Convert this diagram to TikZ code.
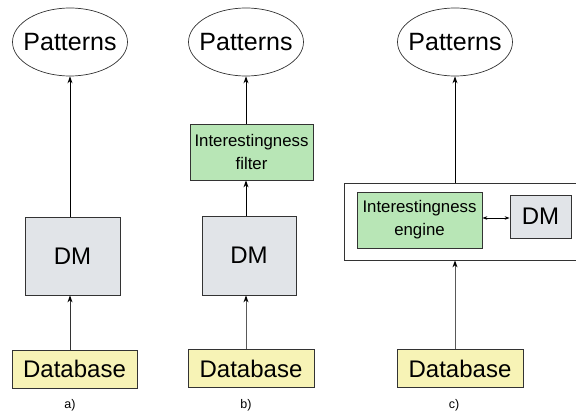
\documentclass[tikz,border=0pt]{standalone}
\usepackage{fontspec}
\setmainfont{Liberation Sans}
\usepackage{xcolor}
\usepackage{tikz}
\usetikzlibrary{positioning}
\usetikzlibrary{arrows.meta}
\usetikzlibrary{shapes.geometric}

\definecolor{dmgray}{HTML}{E1E4E8}
\definecolor{dbyellow}{HTML}{F7F3B6}
\definecolor{filtergreen}{HTML}{B8E6B6}
\definecolor{edgegray}{HTML}{333333}

\tikzset{
  pattern/.style={draw=edgegray, line width=0.7pt, ellipse, minimum width=115pt, minimum height=68pt, inner xsep=-12pt, inner ysep=0pt, font=\fontsize{25}{29}\selectfont},
  dmbox/.style={draw=edgegray, line width=0.8pt, fill=dmgray, rectangle, inner sep=0pt, font=\fontsize{24}{28}\selectfont},
  dbbox/.style={draw=edgegray, line width=0.8pt, fill=dbyellow, rectangle, minimum height=38pt, inner sep=0pt, font=\fontsize{24}{28}\selectfont},
  greenbox/.style={draw=edgegray, line width=0.8pt, fill=filtergreen, rectangle, inner sep=0pt, align=center, font=\fontsize{16.8}{23}\selectfont},
  flow/.style={-{Stealth[length=7pt,width=5pt,color=black]}, line width=0.9pt},
  caption/.style={font=\fontsize{12.5}{14}\selectfont}
}

\begin{document}
\begin{tikzpicture}[x=1pt, y=-1pt]
            \useasboundingbox (0,0) rectangle (576,417);

            % Nodes and lines for the first figure
            \node[pattern] (PatA) at (70,42) {Patterns};
            \node[dmbox, minimum width=95pt, minimum height=78pt] (DMA) at (72.5,256) {DM};
            \node[dbbox, minimum width=125pt] (DbA) at (74.5,369) {Database};
            \node[caption] (LabA) at (70,405) {a)};

            \draw[flow] (DMA.north -| PatA.south) -- (PatA.south);
            \draw[flow, draw=black!80] (DbA.north -| PatA.south) -- (DMA.south -| PatA.south);

            % Nodes and lines for the second figure
            \node[pattern] (PatB) at (246,42) {Patterns};
            \node[greenbox, minimum width=123pt, minimum height=56pt] (Filter) at (251.5,152) {Interestingness\\filter};
            \node[dmbox, minimum width=94pt, minimum height=79pt] (DMB) at (249,255.5) {DM};
            \node[dbbox, minimum width=126pt] (DbB) at (251,368.5) {Database};
            \node[caption] (LabB) at (246,405) {b)};

            \draw[flow] (Filter.north -| PatB.south) -- (PatB.south);
            \draw[flow] (DMB.north -| PatB.south) -- (Filter.south -| PatB.south);
            \draw[flow, draw=black!65] (DbB.north -| PatB.south) -- (DMB.south -| PatB.south);

            % Nodes and lines for the third figure
            \node[pattern] (PatC) at (455,42) {Patterns};
            \node[draw=edgegray, line width=0.8pt, rectangle, minimum width=240pt, minimum height=77pt, inner sep=0pt] (Outer) at (464,221.5) {};
            \node[greenbox, minimum width=125pt, minimum height=56pt] (Engine) at (419.5,220) {Interestingness\\engine};
            \node[dmbox, minimum width=61pt, minimum height=43pt] (DMC) at (540.5,216.5) {DM};
            \node[dbbox, minimum width=126pt] (DbC) at (460,368.5) {Database};
            \node[caption] (LabC) at (454,405) {c)};

            \draw[flow] (Outer.north -| PatC.south) -- (PatC.south);
            \draw[flow, draw=black!65] (DbC.north -| PatC.south) -- (Outer.south -| PatC.south);
            \draw[{Stealth[length=5pt,width=3.5pt]}-{Stealth[length=5pt,width=3.5pt]}, line width=0.6pt] (Engine.east |- 0,218) -- (DMC.west |- 0,218);
        \end{tikzpicture}
\end{document}
